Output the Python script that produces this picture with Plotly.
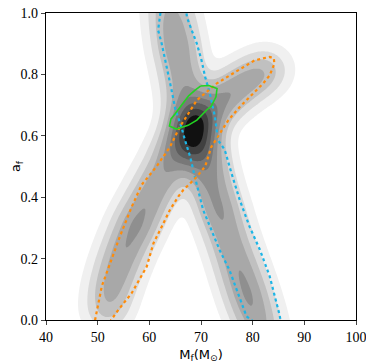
import numpy as np
import plotly.graph_objects as go

# ridge knots of the grey density (centre x, centre y, weight)
steep_x = [63.6, 64.5, 65.3, 66.2, 67.2, 68.3, 69.6, 70.9, 72.2, 73.5, 74.9, 76.3, 77.7, 79.1, 80.5, 81.9]
steep_y = [1.06, 0.97, 0.89, 0.81, 0.73, 0.65, 0.57, 0.50, 0.43, 0.36, 0.29, 0.22, 0.15, 0.08, 0.01, -0.06]
steep_w = [0.4, 0.5, 0.56, 0.48, 0.55, 1.0, 1.0, 0.65, 0.52, 0.55, 0.47, 0.47, 0.52, 0.55, 0.48, 0.35]

shallow_x = [51.8, 52.7, 54.0, 55.6, 57.5, 59.6, 61.8, 64.2, 66.6, 69.2, 72.0, 75.0, 78.2, 81.2, 83.4]
shallow_y = [0.03, 0.10, 0.17, 0.24, 0.31, 0.38, 0.45, 0.52, 0.58, 0.635, 0.685, 0.73, 0.77, 0.80, 0.82]
shallow_w = [0.3, 0.42, 0.48, 0.52, 0.6, 0.52, 0.5, 0.55, 0.8, 0.8, 0.52, 0.47, 0.4, 0.3, 0.18]

# dotted 90% contours and green contour
cyan_x = [62.3, 61.7, 62.4, 63.4, 64.3, 65.0, 66.2, 66.9, 67.9, 68.8, 70.4, 72.0, 73.6, 75.5, 76.9, 78.8, 79.8, 80.2,
          85.6, 85.4, 85.2, 83.3, 81.4, 79.4, 77.5, 75.9, 74.6, 73.3, 72.7, 71.7, 70.8, 70.1, 69.2, 68.2, 67.3, 67.0]
cyan_y = [1.02, 0.944, 0.90, 0.824, 0.749, 0.689, 0.629, 0.586, 0.532, 0.467, 0.359, 0.294, 0.228, 0.163, 0.098, 0.012, 0.0, -0.02,
          -0.02, 0.0, 0.017, 0.142, 0.229, 0.304, 0.391, 0.478, 0.554, 0.586, 0.662, 0.738, 0.792, 0.846, 0.90, 0.944, 0.985, 1.02]

orange_x = [49.3, 49.5, 50.8, 52.4, 54.3, 56.6, 58.5, 61.4, 64.0, 65.9, 67.5, 69.2, 71.1, 73.0, 75.6, 78.2, 80.4, 83.3, 84.1, 84.2,
            83.3, 82.0, 80.1, 77.5, 75.3, 73.6, 72.0, 70.8, 69.2, 67.9, 66.6, 65.6, 64.0, 62.4, 60.8, 59.5, 56.6, 54.0, 52.6, 52.4]
orange_y = [-0.02, 0.0, 0.11, 0.185, 0.272, 0.369, 0.44, 0.50, 0.564, 0.629, 0.673, 0.716, 0.743, 0.770, 0.797, 0.825, 0.846, 0.857, 0.852, 0.835,
            0.797, 0.770, 0.738, 0.694, 0.651, 0.608, 0.564, 0.50, 0.467, 0.445, 0.424, 0.402, 0.359, 0.304, 0.25, 0.174, 0.088, 0.033, 0.0, -0.02]

green_x = [69.9, 71.5, 73.1, 72.9, 72.0, 71.1, 69.2, 67.5, 65.6, 65.2, 63.9, 64.2, 65.0, 65.8, 66.9, 67.6, 68.8, 69.9]
green_y = [0.762, 0.764, 0.754, 0.727, 0.697, 0.684, 0.651, 0.634, 0.624, 0.622, 0.632, 0.655, 0.672, 0.690, 0.714, 0.730, 0.748, 0.762]

# grey density built from the ridge knots
gx = np.linspace(40, 100, 301)
gy = np.linspace(0, 1, 251)
GX, GY = np.meshgrid(gx, gy)
sig = 0.046
z = np.zeros_like(GX)
for kx, ky, kw in zip(steep_x + shallow_x, steep_y + shallow_y, steep_w + shallow_w):
    d2 = ((GX - kx) / 60) ** 2 + (GY - ky) ** 2
    z += kw * np.exp(-d2 / (2 * sig ** 2))
z = (z / z.max()) ** 0.58

greys = ['#ffffff', '#f0f0f0', '#d9d9d9', '#c0c0c0', '#a8a8a8', '#8f8f8f', '#787878', '#5e5e5e', '#404040', '#111111']
cs = []
for i, c in enumerate(greys):
    cs.append([i / len(greys), c])
    cs.append([(i + 1) / len(greys), c])

fig = go.Figure()
fig.add_trace(go.Contour(x=gx, y=gy, z=z, zmin=0, zmax=1, colorscale=cs, showscale=False,
                         contours=dict(start=0.1, end=0.9, size=0.1, coloring='fill'),
                         line=dict(width=0), hoverinfo='skip'))
fig.add_trace(go.Scatter(x=cyan_x, y=cyan_y, mode='lines',
                         line=dict(color='#1cb5e6', width=2.2, dash='dot')))
fig.add_trace(go.Scatter(x=orange_x, y=orange_y, mode='lines',
                         line=dict(color='#ff8c0a', width=2.2, dash='dot')))
fig.add_trace(go.Scatter(x=green_x, y=green_y, mode='lines',
                         line=dict(color='#22d422', width=1.6)))

tick_font = dict(family='Liberation Serif, Times New Roman, serif', size=14, color='black')
title_font = dict(family='DejaVu Sans, sans-serif', size=13, color='black')
fig.update_xaxes(range=[40, 100], tickvals=[40, 50, 60, 70, 80, 90, 100], ticks='outside', ticklen=4,
                 showline=True, linecolor='black', linewidth=1.2, mirror=True, showgrid=False, zeroline=False,
                 automargin=False, tickfont=tick_font, ticklabeloverflow='allow',
                 title=dict(text='M<sub>f</sub>(M<sub>⊙</sub>)', standoff=5, font=title_font))
fig.update_yaxes(range=[0, 1], tickvals=[0, 0.2, 0.4, 0.6, 0.8, 1.0], tickformat='.1f', ticks='outside', ticklen=4,
                 showline=True, linecolor='black', linewidth=1.2, mirror=True, showgrid=False, zeroline=False,
                 automargin=False, tickfont=tick_font, ticklabeloverflow='allow',
                 title=dict(text='a<sub>f</sub>', standoff=8, font=title_font))
# the page body adds 8px around the figure, so the figure is sized to fit inside the window
fig.update_layout(width=366, height=356, margin=dict(l=38, r=18, t=5, b=44),
                  plot_bgcolor='white', paper_bgcolor='white', showlegend=False)
fig.write_html("out.html")
